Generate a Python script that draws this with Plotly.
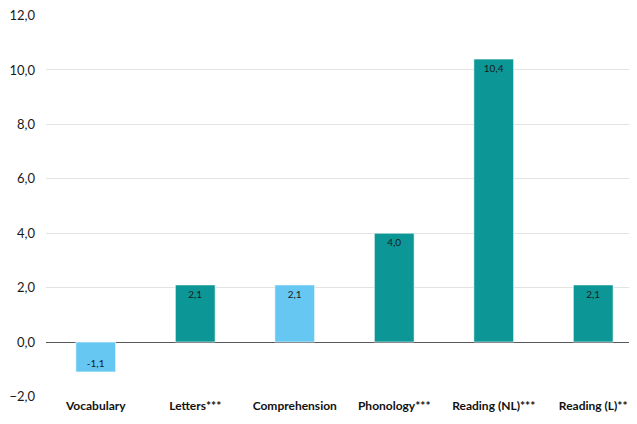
import plotly.graph_objects as go

categories = ["Vocabulary", "Letters***", "Comprehension", "Phonology***", "Reading (NL)***", "Reading (L)**"]
values = [-1.1, 2.1, 2.1, 4.0, 10.4, 2.1]
colors = ["#66C7F2", "#0C9696", "#66C7F2", "#0C9696", "#0C9696", "#0C9696"]
y_ticks = [-2, 0, 2, 4, 6, 8, 10, 12]

fig = go.Figure()
fig.add_trace(go.Bar(
    x=categories, y=values,
    marker=dict(color=colors, line=dict(color="rgba(255,255,255,0.6)", width=1)),
    texttemplate="%{y:.1f}", textposition="inside", insidetextanchor="end",
    textfont=dict(family="Lato, sans-serif", size=10, color="#1a1a1a"),
    textangle=0, cliponaxis=False,
))
fig.update_layout(
    width=629, height=416,
    margin=dict(l=38, r=0, t=7, b=27),
    plot_bgcolor="white", paper_bgcolor="white",
    separators=",.",
    bargap=0.6,
    showlegend=False,
    font=dict(family="Lato, sans-serif", color="#222"),
)
fig.update_xaxes(
    range=[-0.5, 5.44], showgrid=False, showline=False, ticks="", automargin=False,
    ticklabeloverflow="allow",
    tickfont=dict(size=12, family="Lato, sans-serif", color="#111", weight="bold"),
)
fig.update_yaxes(
    range=[-2.02, 12.02], tickvals=y_ticks, tickformat=".1f", automargin=False,
    ticklabeloverflow="allow",
    showgrid=True, gridcolor="#E3E3E3", gridwidth=1,
    zeroline=True, zerolinecolor="#595959", zerolinewidth=1,
    showline=False, ticks="", ticklabelstandoff=10,
    tickfont=dict(size=13, family="Lato, sans-serif", color="#1a1a1a"),
)
fig.write_html("out.html")
